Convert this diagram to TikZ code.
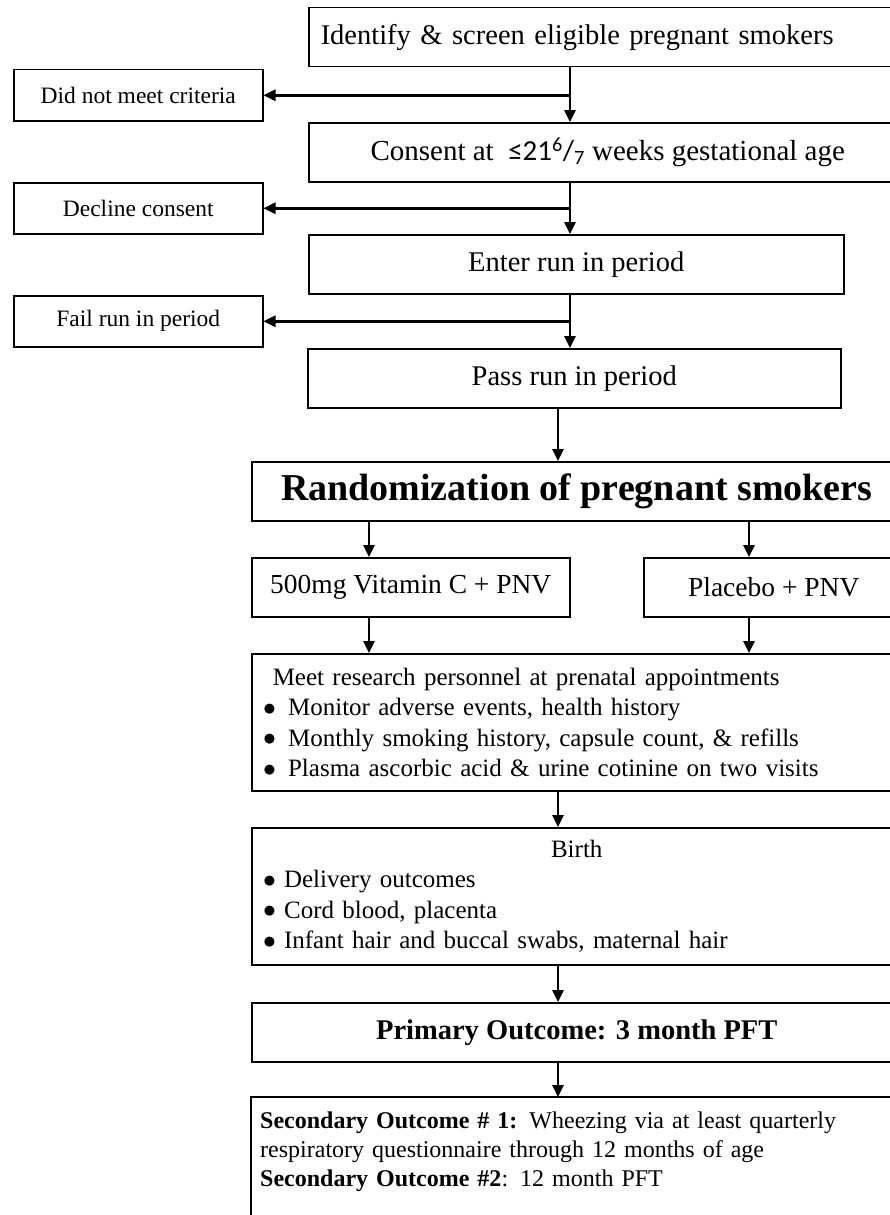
\documentclass[tikz,border=0pt]{standalone}
\usepackage{fontspec}
\setmainfont{Liberation Serif}
\newfontfamily\calib{Carlito}
\newfontfamily\symfont{DejaVu Sans}
\usetikzlibrary{arrows.meta, positioning}

\newcommand{\bul}{\raisebox{3.5pt}{\symfont\fontsize{13}{13}\selectfont ●}}

\begin{document}
\begin{tikzpicture}[
            x = 1pt, y = -1pt,
            > = {Triangle[length=12pt, width=11pt]}, % arrow head style
            flow/.style = {->, line width = 2.7pt},
            box/.style = {
                draw = black,
                line width = 1.5pt,
                inner sep = 0pt,
                anchor = north west
            },
            side/.style = {box, minimum width = 249pt, minimum height = 51pt,
                font = \fontsize{23.5}{26}\selectfont},
            step box/.style = {box, minimum height = 59pt,
                font = \fontsize{28.5}{31}\selectfont},
            list box/.style = {box, minimum height = 137pt, inner xsep = 12pt,
                text width = 626pt, align = left,
                font = \fontsize{25}{30.5}\selectfont}
        ]
        \useasboundingbox (0,0) rectangle (890,1215);

        % screening chain
        \node[step box, minimum width = 598pt, inner xsep = 12pt,
              text width = 574pt, align = left] (screen) at (308,7)
              {Identify \& screen eligible pregnant smokers};
        \node[side] (nomeet) at (13,69) {Did not meet criteria};
        \node[step box, minimum width = 598pt, font = \fontsize{29}{31}\selectfont] (consent) at (308,122)
              {Consent at \ {\calib ≤21\textsuperscript{6}/\textsubscript{7}} weeks gestational age};
        \node[side] (decline) at (13,182) {Decline consent};
        \node[step box, minimum width = 535pt] (runin) at (308,234) {Enter run in period};
        \node[side] (fail) at (13,295) {Fail run in period};
        \node[step box, minimum width = 533pt] (pass) at (307,348)
              {Pass run in period};

        % trial
        \node[box, minimum width = 650pt, minimum height = 59pt,
              font = \fontsize{38}{40}\selectfont\bfseries] (random) at (251,461)
              {Randomization of pregnant smokers};
        \node[box, minimum width = 318pt, minimum height = 59pt,
              font = \fontsize{27.5}{30}\selectfont] (vitc) at (251,557)
              {500mg Vitamin C + PNV};
        \node[box, minimum width = 260pt, minimum height = 59pt,
              font = \fontsize{27.5}{30}\selectfont] (placebo) at (643,557)
              {Placebo + PNV};
        \node[list box] (meet) at (251,653)
              {\hspace*{9pt}Meet research personnel at prenatal appointments\\
               \bul\hspace{13pt}Monitor adverse events, health history\\
               \bul\hspace{13pt}Monthly smoking history, capsule count, \& refills\\
               \bul\hspace{13pt}Plasma ascorbic acid \& urine cotinine on two visits};
        \node[list box] (birth) at (251,827)
              {\hfill Birth\hfill\null\\
               \bul\hspace{9pt}Delivery outcomes\\
               \bul\hspace{9pt}Cord blood, placenta\\
               \bul\hspace{9pt}Infant hair and buccal swabs, maternal hair};
        \node[box, minimum width = 650pt, minimum height = 59pt,
              font = \fontsize{28.5}{31}\selectfont\bfseries] (primary) at (251,1002)
              {Primary Outcome: 3 month PFT};
        \node[anchor = north west, inner xsep = 9pt, inner ysep = 15pt,
              text width = 632pt, align = left,
              font = \fontsize{24}{29}\selectfont] (second) at (251,1097)
              {\textbf{Secondary Outcome \# 1:} Wheezing via at least quarterly\\
               respiratory questionnaire through 12 months of age\\
               \textbf{Secondary Outcome \#2}: 12 month PFT};
        \coordinate (floor) at (0,1220);
        \draw[line width = 1.5pt] (second.north west |- floor) -- (second.north west)
            -- (second.north east) -- (second.north east |- floor);

        % connectors
        \coordinate (trunk) at (570,0);
        \coordinate (spine) at (558,0);
        \coordinate (armL) at (369,0);
        \coordinate (armR) at (749,0);

        \draw[flow] (trunk |- screen.south) -- (trunk |- consent.north);
        \draw[flow] (trunk |- nomeet.east) -- (nomeet.east);
        \draw[flow] (trunk |- consent.south) -- (trunk |- runin.north);
        \draw[flow] (trunk |- decline.east) -- (decline.east);
        \draw[flow] (trunk |- runin.south) -- (trunk |- pass.north);
        \draw[flow] (trunk |- fail.east) -- (fail.east);
        \draw[flow] (spine |- pass.south) -- (spine |- random.north);
        \draw[flow] (armL |- random.south) -- (armL |- vitc.north);
        \draw[flow] (armR |- random.south) -- (armR |- placebo.north);
        \draw[flow] (armL |- vitc.south) -- (armL |- meet.north);
        \draw[flow] (armR |- placebo.south) -- (armR |- meet.north);
        \draw[flow] (spine |- meet.south) -- (spine |- birth.north);
        \draw[flow] (spine |- birth.south) -- (spine |- primary.north);
        \draw[flow] (spine |- primary.south) -- (spine |- second.north);

  \end{tikzpicture}
\end{document}
